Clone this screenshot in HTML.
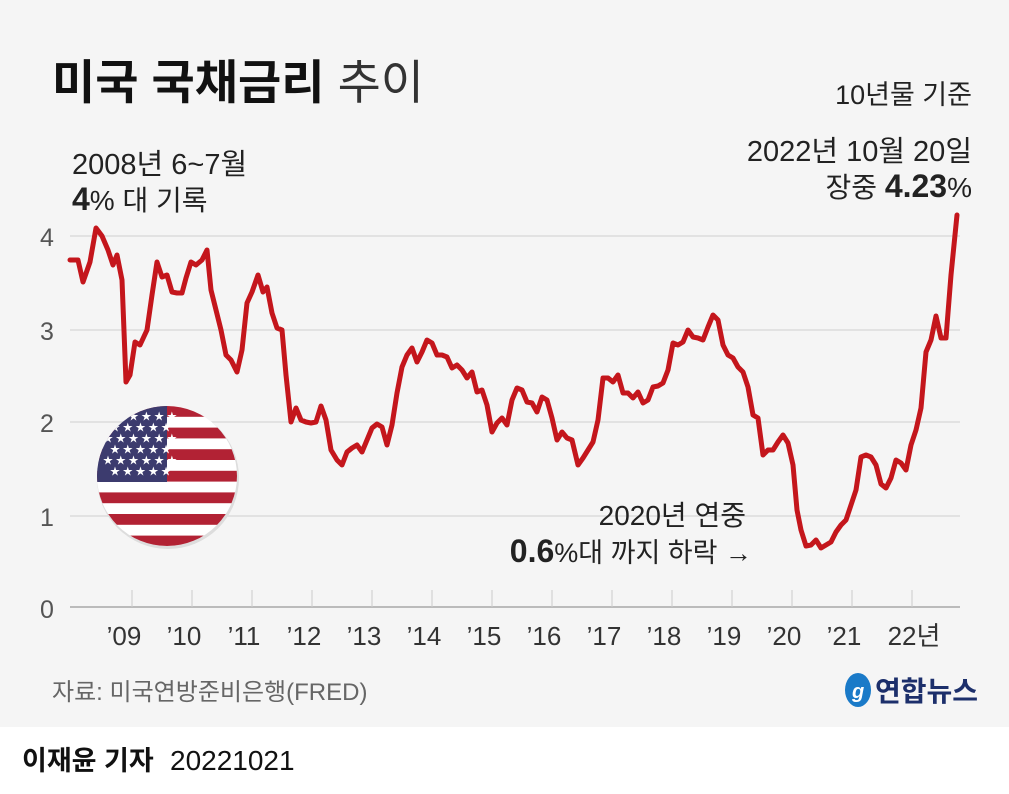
<!DOCTYPE html>
<html><head><meta charset="utf-8"><style>
html,body{margin:0;padding:0;background:#fff}
body{width:1009px;height:789px;overflow:hidden;font-family:"Liberation Sans","Noto Sans CJK KR",sans-serif}
</style></head><body>
<svg width="1009" height="789" xmlns="http://www.w3.org/2000/svg" font-family="Liberation Sans, Noto Sans CJK KR, sans-serif">
<rect x="0" y="0" width="1009" height="727" fill="#f5f5f5"/>
<text x="52" y="99" font-size="47" font-weight="bold" fill="#111">미국 국채금리 <tspan font-weight="normal" fill="#333">추이</tspan></text>
<text x="972" y="104" font-size="27" text-anchor="end" fill="#222">10년물 기준</text>
<text x="72" y="174" font-size="29" fill="#222">2008년 6~7월</text>
<text x="72" y="210" font-size="28" fill="#222"><tspan font-weight="bold" font-size="32">4</tspan>% 대 기록</text>
<text x="972" y="161" font-size="29" text-anchor="end" fill="#222">2022년 10월 20일</text>
<text x="972" y="197" font-size="28" text-anchor="end" fill="#222">장중 <tspan font-weight="bold" font-size="32">4.23</tspan>%</text>
<g stroke="#dcdcdc" stroke-width="1.5">
<line x1="70" y1="236" x2="960" y2="236"/><line x1="70" y1="330" x2="960" y2="330"/>
<line x1="70" y1="422" x2="960" y2="422"/><line x1="70" y1="516" x2="960" y2="516"/>
</g>
<line x1="70" y1="607" x2="960" y2="607" stroke="#bbb" stroke-width="2"/>
<g stroke="#ccc" stroke-width="1">
<line x1="132" y1="590" x2="132" y2="607"/><line x1="192" y1="590" x2="192" y2="607"/><line x1="252" y1="590" x2="252" y2="607"/><line x1="312" y1="590" x2="312" y2="607"/><line x1="372" y1="590" x2="372" y2="607"/><line x1="432" y1="590" x2="432" y2="607"/><line x1="492" y1="590" x2="492" y2="607"/><line x1="552" y1="590" x2="552" y2="607"/><line x1="612" y1="590" x2="612" y2="607"/><line x1="672" y1="590" x2="672" y2="607"/><line x1="732" y1="590" x2="732" y2="607"/><line x1="792" y1="590" x2="792" y2="607"/><line x1="852" y1="590" x2="852" y2="607"/><line x1="912" y1="590" x2="912" y2="607"/>
</g>
<g font-size="25" fill="#555">
<text x="40" y="246">4</text><text x="40" y="340">3</text><text x="40" y="432">2</text><text x="40" y="526">1</text><text x="40" y="618">0</text>
</g>
<g font-size="26" fill="#333" text-anchor="middle">
<text x="124" y="645">’09</text><text x="184" y="645">’10</text><text x="244" y="645">’11</text><text x="304" y="645">’12</text><text x="364" y="645">’13</text><text x="424" y="645">’14</text><text x="484" y="645">’15</text><text x="544" y="645">’16</text><text x="604" y="645">’17</text><text x="664" y="645">’18</text><text x="724" y="645">’19</text><text x="784" y="645">’20</text><text x="844" y="645">’21</text><text x="914" y="645">22년</text>
</g>
<defs><clipPath id="c"><circle cx="167" cy="476" r="70"/></clipPath></defs>
<circle cx="168" cy="478" r="71" fill="#ddd"/>
<g clip-path="url(#c)">
<rect x="95" y="404" width="145" height="145" fill="#fff"/>
<g fill="#b22234">
<rect x="95" y="406" width="145" height="10.8"/><rect x="95" y="427.6" width="145" height="10.8"/><rect x="95" y="449.2" width="145" height="10.8"/><rect x="95" y="470.8" width="145" height="10.8"/><rect x="95" y="492.4" width="145" height="10.8"/><rect x="95" y="514" width="145" height="10.8"/><rect x="95" y="535.6" width="145" height="14"/>
</g>
<rect x="95" y="404" width="72" height="78" fill="#3c3b6e"/>
<g fill="#fff" font-size="10">
<text x="103" y="420">★ ★ ★ ★ ★ ★</text><text x="110" y="431">★ ★ ★ ★ ★</text><text x="103" y="442">★ ★ ★ ★ ★ ★</text><text x="110" y="453">★ ★ ★ ★ ★</text><text x="103" y="464">★ ★ ★ ★ ★ ★</text><text x="110" y="475">★ ★ ★ ★ ★</text>
</g>
</g>
<polyline fill="none" stroke="#c4161c" stroke-width="5" stroke-linejoin="round" stroke-linecap="round" points="70,260 78,260 83,282 90,262 96,228 102,236 108,250 113,265 117,255 122,280 126,382 130,375 135,342 140,345 147,330 152,295 157,262 162,277 167,275 172,292 177,293 182,293 186,278 191,262 196,265 202,260 207,250 211,290 216,310 221,330 226,355 231,360 237,372 242,350 247,303 252,292 258,275 263,292 267,287 272,313 277,328 282,330 286,375 291,422 296,408 301,420 306,422 311,423 316,422 321,406 326,420 331,450 337,460 342,465 347,452 352,448 357,445 362,452 367,440 372,428 377,424 382,427 387,445 392,425 397,393 402,367 407,355 412,348 417,362 422,352 427,340 432,343 437,355 442,355 447,357 452,368 457,365 462,370 467,378 472,372 477,392 482,390 487,405 492,432 497,423 502,418 507,425 512,400 517,388 522,390 527,402 532,403 537,412 542,397 547,400 552,418 557,440 562,432 567,438 572,440 578,465 583,458 588,450 593,442 598,420 603,378 608,378 613,382 618,375 623,393 628,393 633,398 638,392 643,403 648,400 653,387 658,386 663,383 668,370 673,343 678,345 683,342 688,330 693,337 698,338 703,340 708,327 713,315 718,320 723,345 728,355 733,358 738,367 743,372 748,387 753,415 758,418 763,455 768,450 773,450 778,442 783,435 788,443 793,465 797,510 801,530 806,546 811,545 816,540 821,548 826,545 831,542 836,532 841,525 846,520 851,505 856,490 861,457 866,455 871,457 876,465 881,484 886,488 891,478 896,460 901,463 906,470 911,445 916,430 921,408 926,352 931,340 936,316 941,338 946,338 951,275 957,215"/>
<text x="746" y="525" font-size="28" text-anchor="end" fill="#222">2020년 연중</text>
<text x="752" y="562" font-size="27" text-anchor="end" fill="#222"><tspan font-weight="bold" font-size="32">0.6</tspan>%대 까지 하락 →</text>
<text x="52" y="700" font-size="24" fill="#666">자료: 미국연방준비은행(FRED)</text>
<ellipse cx="858" cy="690" rx="13" ry="17" fill="#1a7ac8"/>
<text x="852" y="698" font-size="20" font-style="italic" font-weight="bold" fill="#fff">g</text>
<text x="875" y="701" font-size="28" font-weight="bold" fill="#1c2f6b">연합뉴스</text>
<text x="22" y="770" font-size="27" font-weight="bold" fill="#111">이재윤 기자</text>
<text x="170" y="770" font-size="28" fill="#111">20221021</text>
</svg>
</body></html>
